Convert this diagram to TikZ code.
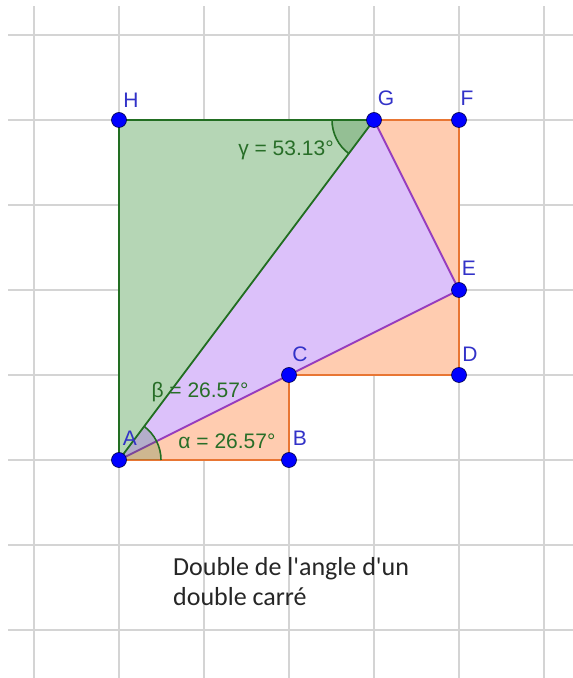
\documentclass[tikz,border=0pt]{standalone}
\usepackage{fontspec}
\setmainfont{Liberation Sans}
\newfontfamily\notefont{Carlito}
\definecolor{gridc}{RGB}{212,212,212}
\definecolor{greenfill}{RGB}{181,214,181}
\definecolor{greenedge}{RGB}{34,110,34}
\definecolor{orangefill}{RGB}{255,204,176}
\definecolor{orangeedge}{RGB}{232,118,52}
\definecolor{purplefill}{RGB}{220,193,250}
\definecolor{purpleedge}{RGB}{150,60,190}
\definecolor{ptblue}{RGB}{0,0,255}
\definecolor{lblblue}{RGB}{50,50,200}
\definecolor{angtext}{RGB}{40,110,40}
\tikzset{
  gridline/.style={draw=gridc, line width=1.6pt},
  pt/.style={circle, fill=ptblue, draw=black!70!blue, line width=0.6pt, minimum size=15pt, inner sep=0pt},
  ptlabel/.style={text=lblblue, font=\fontsize{21}{21}\selectfont, inner sep=0pt},
  anglabel/.style={text=angtext, font=\fontsize{21}{21}\selectfont, inner sep=0pt},
  sector/.style={fill=greenedge, fill opacity=0.22},
  angarc/.style={draw=greenedge, line width=1.6pt}
}
\begin{document}
\begin{tikzpicture}[x=1pt,y=1pt]
\useasboundingbox (0,0) rectangle (573,678);
\fill[white] (0,0) rectangle (573,678);
% grid
\foreach \gx in {34,119,204,289,374,459,544} {\draw[gridline] (\gx,0) -- (\gx,672);}
\foreach \gy in {643,558,473,388,303,218,133,48} {\draw[gridline] (8,\gy) -- (573,\gy);}
% coordinates
\coordinate (pA) at (119,218);
\coordinate (pB) at (289,218);
\coordinate (pC) at (289,303);
\coordinate (pD) at (459,303);
\coordinate (pE) at (459,388);
\coordinate (pF) at (459,558);
\coordinate (pG) at (374,558);
\coordinate (pH) at (119,558);
% orange polygon
\fill[orangefill] (pA) -- (pB) -- (pC) -- (pD) -- (pF) -- (pG) -- cycle;
\draw[orangeedge, line width=1.8pt, line join=round] (pA) -- (pB) -- (pC) -- (pD) -- (pF) -- (pG);
% purple triangle
\fill[purplefill] (pA) -- (pE) -- (pG) -- cycle;
\draw[purpleedge, line width=1.8pt, line join=round] (pA) -- (pE) -- (pG);
% green triangle
\fill[greenfill] (pA) -- (pG) -- (pH) -- cycle;
\draw[greenedge, line width=1.8pt, line join=round] (pA) -- (pG) -- (pH) -- cycle;
% angle sectors
\fill[sector] (pA) -- ++(0:42pt) arc (0:53.13:42pt) -- cycle;
\draw[angarc] ([shift={(0:42pt)}]pA) arc (0:53.13:42pt);
\fill[sector] (pG) -- ++(180:42pt) arc (180:233.13:42pt) -- cycle;
\draw[angarc] ([shift={(180:42pt)}]pG) arc (180:233.13:42pt);
% angle labels
\node[anglabel] (gam) at (286,528) {γ = 53.13°};
\node[anglabel] (bet) at (200,286) {β = 26.57°};
\node[anglabel] (alp) at (227,237) {α = 26.57°};
% points
\node[pt] (A) at (pA) {};
\node[pt] (B) at (pB) {};
\node[pt] (C) at (pC) {};
\node[pt] (D) at (pD) {};
\node[pt] (E) at (pE) {};
\node[pt] (F) at (pF) {};
\node[pt] (G) at (pG) {};
\node[pt] (H) at (pH) {};
% point labels
\node[ptlabel] (lA) at (130,240) {A};
\node[ptlabel] (lB) at (300,240) {B};
\node[ptlabel] (lC) at (300,324) {C};
\node[ptlabel] (lD) at (470,324) {D};
\node[ptlabel] (lE) at (469,410) {E};
\node[ptlabel] (lF) at (467,580) {F};
\node[ptlabel] (lG) at (386,580) {G};
\node[ptlabel] (lH) at (131,578) {H};
% note
\node[anchor=base west, align=left, text=black!85, font=\notefont\fontsize{26}{30}\selectfont, inner sep=0pt] (note) at (173,72) {Double de l'angle d'un\\double carré};
\end{tikzpicture}
\end{document}
